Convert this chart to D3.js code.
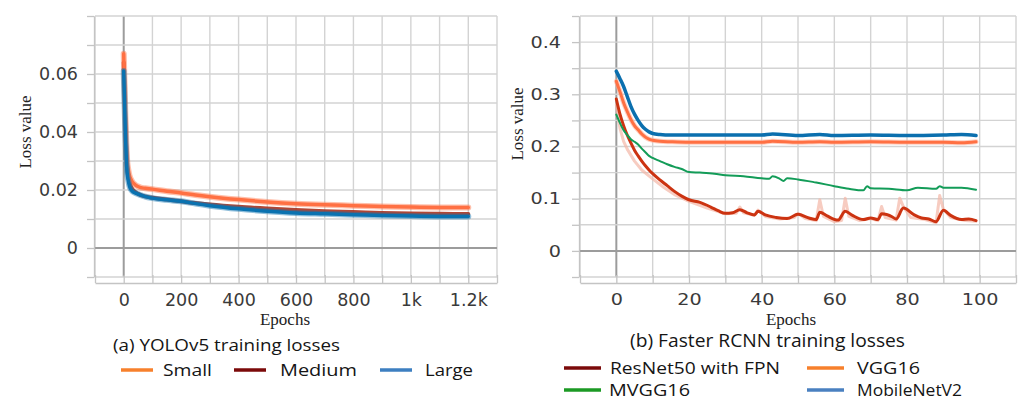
<!DOCTYPE html>
<html>
<head>
<meta charset="utf-8">
<script src="https://cdn.jsdelivr.net/npm/d3@7"></script>
<style>
  body { margin: 0; background: #fff; }
  svg { display: block; }
</style>
</head>
<body>
<svg id="chart" width="1019" height="401"></svg>
<script>
// ---- (a) YOLOv5 training losses ----
var yoloEpochs = [0, 3, 6, 9, 12, 16, 20, 25, 30, 40, 50, 60, 75, 100, 150, 200, 250, 300, 400, 500, 600, 700, 800, 900, 1000, 1100, 1200];
var yoloSmall  = [0.067, 0.056, 0.045, 0.036, 0.030, 0.027, 0.025, 0.0237, 0.0228, 0.0218, 0.0212, 0.0208, 0.0206, 0.0203, 0.0196, 0.0190, 0.0183, 0.0177, 0.0167, 0.0159, 0.0153, 0.0149, 0.0146, 0.0143, 0.0141, 0.0140, 0.0140];
var yoloMedium = [0.064, 0.053, 0.042, 0.033, 0.027, 0.0245, 0.0226, 0.0212, 0.0203, 0.0193, 0.0187, 0.0182, 0.0178, 0.0173, 0.0167, 0.0161, 0.0155, 0.0150, 0.0142, 0.0136, 0.0131, 0.0127, 0.0124, 0.0121, 0.0119, 0.0118, 0.0117];
var yoloLarge  = [0.061, 0.050, 0.039, 0.031, 0.0259, 0.0232, 0.0214, 0.0202, 0.0196, 0.0190, 0.0186, 0.0182, 0.0177, 0.0172, 0.0166, 0.0161, 0.0153, 0.0146, 0.0135, 0.0127, 0.0121, 0.0118, 0.0115, 0.0112, 0.0110, 0.0109, 0.0109];
var yoloXTicks = [0, 200, 400, 600, 800, 1000, 1200];
var yoloXLabels = ['0', '200', '400', '600', '800', '1k', '1.2k'];
var yoloYTicks = [0, 0.02, 0.04, 0.06];
var yoloYLabels = ['0', '0.02', '0.04', '0.06'];
var yoloNames = ['Small', 'Medium', 'Large'];

// ---- (b) Faster RCNN training losses ----
var flatEpochs = [0, 1, 2, 3, 4, 5, 6, 7, 8, 9, 10, 12, 15, 20, 30, 40, 43, 50, 56, 60, 70, 80, 90, 95, 99];
var mobileLoss = [0.344, 0.330, 0.315, 0.296, 0.277, 0.262, 0.250, 0.240, 0.233, 0.228, 0.225, 0.223, 0.222, 0.222, 0.222, 0.222, 0.224, 0.221, 0.223, 0.221, 0.222, 0.221, 0.222, 0.223, 0.221];
var vggLoss    = [0.325, 0.305, 0.284, 0.267, 0.252, 0.240, 0.232, 0.224, 0.218, 0.214, 0.212, 0.210, 0.209, 0.208, 0.208, 0.208, 0.210, 0.208, 0.209, 0.208, 0.209, 0.208, 0.208, 0.207, 0.209];

var mvggEpochs = [0, 1, 2, 3, 4, 5, 6, 7, 8, 9, 10, 12, 14, 16, 18, 20, 23, 27, 30, 35, 40, 42, 43, 45, 46, 47, 50, 55, 60, 64, 68, 69, 70, 75, 80, 83, 88, 89, 90, 95, 99];
var mvggLoss   = [0.261, 0.245, 0.231, 0.222, 0.214, 0.209, 0.204, 0.196, 0.189, 0.182, 0.178, 0.172, 0.166, 0.161, 0.157, 0.151, 0.150, 0.148, 0.145, 0.143, 0.139, 0.138, 0.143, 0.138, 0.134, 0.139, 0.137, 0.131, 0.124, 0.119, 0.116, 0.124, 0.120, 0.119, 0.116, 0.121, 0.119, 0.124, 0.121, 0.121, 0.117];

var resnetEpochs = [0, 1, 2, 3, 4, 5, 6, 7, 8, 9, 10, 12, 14, 16, 18, 20, 23, 26, 28, 30, 32, 34, 36, 38, 39, 41, 44, 47, 50, 53, 55, 56, 58, 61, 63, 65, 68, 70, 72, 73, 76, 77, 79, 82, 84, 86, 88, 90, 92, 95, 97, 99];
var resnetLoss   = [0.291, 0.262, 0.240, 0.222, 0.207, 0.193, 0.182, 0.172, 0.163, 0.155, 0.148, 0.136, 0.125, 0.114, 0.105, 0.098, 0.093, 0.084, 0.077, 0.072, 0.073, 0.079, 0.073, 0.069, 0.076, 0.069, 0.064, 0.062, 0.070, 0.063, 0.060, 0.074, 0.067, 0.059, 0.076, 0.068, 0.060, 0.063, 0.060, 0.071, 0.065, 0.061, 0.082, 0.069, 0.063, 0.061, 0.056, 0.078, 0.068, 0.060, 0.061, 0.058];
// unsmoothed run, drawn faint behind the ResNet line
var resnetRawEpochs = [0, 1, 2, 3, 5, 7, 10, 13, 16, 20, 25, 30, 33, 34, 35, 38, 39, 41, 45, 49, 50, 52, 55, 56, 57, 60, 62, 63, 64, 67, 70, 72, 73, 74, 77, 78, 79, 81, 85, 88, 89, 90, 92, 96, 99];
var resnetRaw       = [0.28, 0.235, 0.21, 0.195, 0.172, 0.155, 0.138, 0.122, 0.108, 0.095, 0.082, 0.071, 0.072, 0.084, 0.073, 0.068, 0.078, 0.066, 0.061, 0.064, 0.072, 0.062, 0.058, 0.098, 0.066, 0.056, 0.058, 0.101, 0.066, 0.058, 0.062, 0.058, 0.085, 0.064, 0.059, 0.101, 0.085, 0.064, 0.060, 0.054, 0.106, 0.080, 0.064, 0.058, 0.057];

var frcnnXTicks = [0, 20, 40, 60, 80, 100];
var frcnnXLabels = ['0', '20', '40', '60', '80', '100'];
var frcnnYTicks = [0, 0.1, 0.2, 0.3, 0.4];
var frcnnYLabels = ['0', '0.1', '0.2', '0.3', '0.4'];
var frcnnNames = ['ResNet50 with FPN', 'VGG16', 'MVGG16', 'MobileNetV2'];

var svg = d3.select('#chart');

function findLabel(vals, labels, d){
    for (var i = 0; i < vals.length; i++){
        if (Math.abs(vals[i] - d) < 1e-9) return labels[i];
    }
    return '';
}

function drawPanel(p){
    var x = d3.scaleLinear().domain(p.xDomain).range([p.left, p.right]);
    var y = d3.scaleLinear().domain(p.yDomain).range([p.bottom, p.top]);
    var gx = x.ticks(p.xCount);
    var gy = y.ticks(p.yCount);
    var g = svg.append('g');

    g.selectAll('line.vgrid').data(gx).enter().append('line')
        .attr('x1', function(d){return x(d);}).attr('x2', function(d){return x(d);})
        .attr('y1', p.top).attr('y2', p.bottom)
        .attr('stroke', function(d){return d === 0 ? '#9c9c9c' : '#d3d3d3';})
        .attr('stroke-width', function(d){return d === 0 ? 2 : 1.4;});

    g.selectAll('line.hgrid').data(gy).enter().append('line')
        .attr('x1', p.left).attr('x2', p.right)
        .attr('y1', function(d){return y(d);}).attr('y2', function(d){return y(d);})
        .attr('stroke', function(d){return Math.abs(d) < 1e-9 ? '#9c9c9c' : '#d3d3d3';})
        .attr('stroke-width', function(d){return Math.abs(d) < 1e-9 ? 2 : 1.4;});

    var xAxis = d3.axisBottom(x).tickValues(gx).tickSize(-8).tickSizeOuter(0).tickPadding(11)
        .tickFormat(function(d){return findLabel(p.xTicks, p.xLabels, d);});
    var xg = g.append('g').attr('transform', 'translate(0,' + (p.bottom + 6) + ')').call(xAxis);

    var yAxis = d3.axisLeft(y).tickValues(gy).tickSize(7).tickSizeOuter(0).tickPadding(p.yPad)
        .tickFormat(function(d){return findLabel(p.yTicks, p.yLabels, d);});
    var yg = g.append('g').attr('transform', 'translate(' + (p.left - 1) + ',0)').call(yAxis);

    [xg, yg].forEach(function(a){
        a.select('.domain').attr('stroke', '#c4c4c4').attr('stroke-width', 1.3);
        a.selectAll('.tick line').attr('stroke', '#c4c4c4').attr('stroke-width', 1.3);
        a.selectAll('.tick text')
            .attr('fill', '#3a3a3a')
            .style('font-family', 'DejaVu Sans')
            .style('font-size', p.tickFont + 'px')
            .attr('transform', 'scale(' + p.tickStretch + ',1)');
    });

    svg.append('text').text('Epochs')
        .attr('x', p.epochsX).attr('y', 325)
        .attr('text-anchor', 'middle')
        .style('font-family', 'Liberation Serif').style('font-size', '17px').attr('fill', '#222');

    svg.append('text').text('Loss value')
        .attr('transform', 'translate(' + p.lossX + ',' + p.lossY + ') rotate(-90)')
        .attr('text-anchor', 'middle')
        .style('font-family', 'Liberation Serif').style('font-size', '17px').attr('fill', '#222');

    return {x: x, y: y};
}

function drawSeries(sc, xs, ys, color, width, opacity, curve){
    var pts = xs.map(function(d, i){return [d, ys[i]];});
    var line = d3.line()
        .x(function(d){return sc.x(d[0]);})
        .y(function(d){return sc.y(d[1]);})
        .curve(curve || d3.curveMonotoneX);
    svg.append('path').datum(pts)
        .attr('d', line)
        .attr('fill', 'none')
        .attr('stroke', color)
        .attr('stroke-width', width)
        .attr('stroke-opacity', opacity)
        .attr('stroke-linejoin', 'round')
        .attr('stroke-linecap', 'round');
}

function caption(txt, cx, baseline, size, len){
    svg.append('text').text(txt)
        .attr('x', cx).attr('y', baseline)
        .attr('text-anchor', 'middle')
        .attr('textLength', len).attr('lengthAdjust', 'spacingAndGlyphs')
        .style('font-family', 'Open Sans').style('font-size', size + 'px').attr('fill', '#151515');
}

function legendItem(name, color, sx, sw, tx, cy, size, len){
    svg.append('line')
        .attr('x1', sx).attr('x2', sx + sw).attr('y1', cy).attr('y2', cy)
        .attr('stroke', color).attr('stroke-width', 3.5);
    svg.append('text').text(name)
        .attr('x', tx).attr('y', cy + size * 0.36)
        .attr('textLength', len).attr('lengthAdjust', 'spacingAndGlyphs')
        .style('font-family', 'Open Sans').style('font-size', size + 'px').attr('fill', '#151515');
}

// ---- panel (a) ----
var a = drawPanel({
    xDomain: [-100, 1300], yDomain: [-0.01, 0.08], xCount: 14, yCount: 9,
    left: 95, right: 497, top: 16, bottom: 277,
    xTicks: yoloXTicks, xLabels: yoloXLabels, yTicks: yoloYTicks, yLabels: yoloYLabels,
    tickFont: 17.5, tickStretch: 1, yPad: 9,
    epochsX: 285, lossX: 31, lossY: 132
});

drawSeries(a, yoloEpochs, yoloMedium, '#a8321e', 4, 0.9);
drawSeries(a, yoloEpochs, yoloSmall, '#ff7043', 6, 0.45);
drawSeries(a, yoloEpochs, yoloSmall, '#ff7043', 3.5, 1);
drawSeries(a, yoloEpochs, yoloLarge, '#0a72b0', 6, 0.45);
drawSeries(a, yoloEpochs, yoloLarge, '#0a72b0', 3.5, 1);

// ---- panel (b) ----
var b = drawPanel({
    xDomain: [-10, 110], yDomain: [-0.05, 0.45], xCount: 12, yCount: 10,
    left: 580, right: 1016, top: 16, bottom: 277,
    xTicks: frcnnXTicks, xLabels: frcnnXLabels, yTicks: frcnnYTicks, yLabels: frcnnYLabels,
    tickFont: 16, tickStretch: 1.2, yPad: 8,
    epochsX: 791, lossX: 523, lossY: 124
});

drawSeries(b, resnetRawEpochs, resnetRaw, '#f3b6a6', 3, 0.7, d3.curveLinear);
drawSeries(b, resnetEpochs, resnetLoss, '#cc3311', 3, 1);
drawSeries(b, mvggEpochs, mvggLoss, '#139c58', 2, 1);
drawSeries(b, flatEpochs, vggLoss, '#ffb199', 5, 0.6);
drawSeries(b, flatEpochs, vggLoss, '#ff7043', 3, 1);
drawSeries(b, flatEpochs, mobileLoss, '#0b6fae', 3.5, 1);

// ---- captions and legends ----
caption('(a) YOLOv5 training losses', 226.5, 351, 16, 227);
caption('(b) Faster RCNN training losses', 767.5, 347, 18.5, 275);

var yoloLegendColors = ['#f7802c', '#7b0a0a', '#3d7fc1'];
var yoloLegendSwatchX = [121, 234, 380];
var yoloLegendTextX = [163, 280, 425];
var yoloLegendLen = [49, 77, 48];
yoloNames.forEach(function(n, i){
    legendItem(n, yoloLegendColors[i], yoloLegendSwatchX[i], 32, yoloLegendTextX[i], 370, 16, yoloLegendLen[i]);
});

var frcnnLegendColors = ['#7b0a0a', '#f7802c', '#1c9a24', '#4a80c0'];
var frcnnLegendSwatchX = [564, 807, 564, 807];
var frcnnLegendTextX = [610, 857, 609, 857];
var frcnnLegendY = [368, 368, 390, 390];
var frcnnLegendLen = [170, 63, 81, 105];
frcnnNames.forEach(function(n, i){
    legendItem(n, frcnnLegendColors[i], frcnnLegendSwatchX[i], 37, frcnnLegendTextX[i], frcnnLegendY[i], 15.5, frcnnLegendLen[i]);
});
</script>
</body>
</html>
